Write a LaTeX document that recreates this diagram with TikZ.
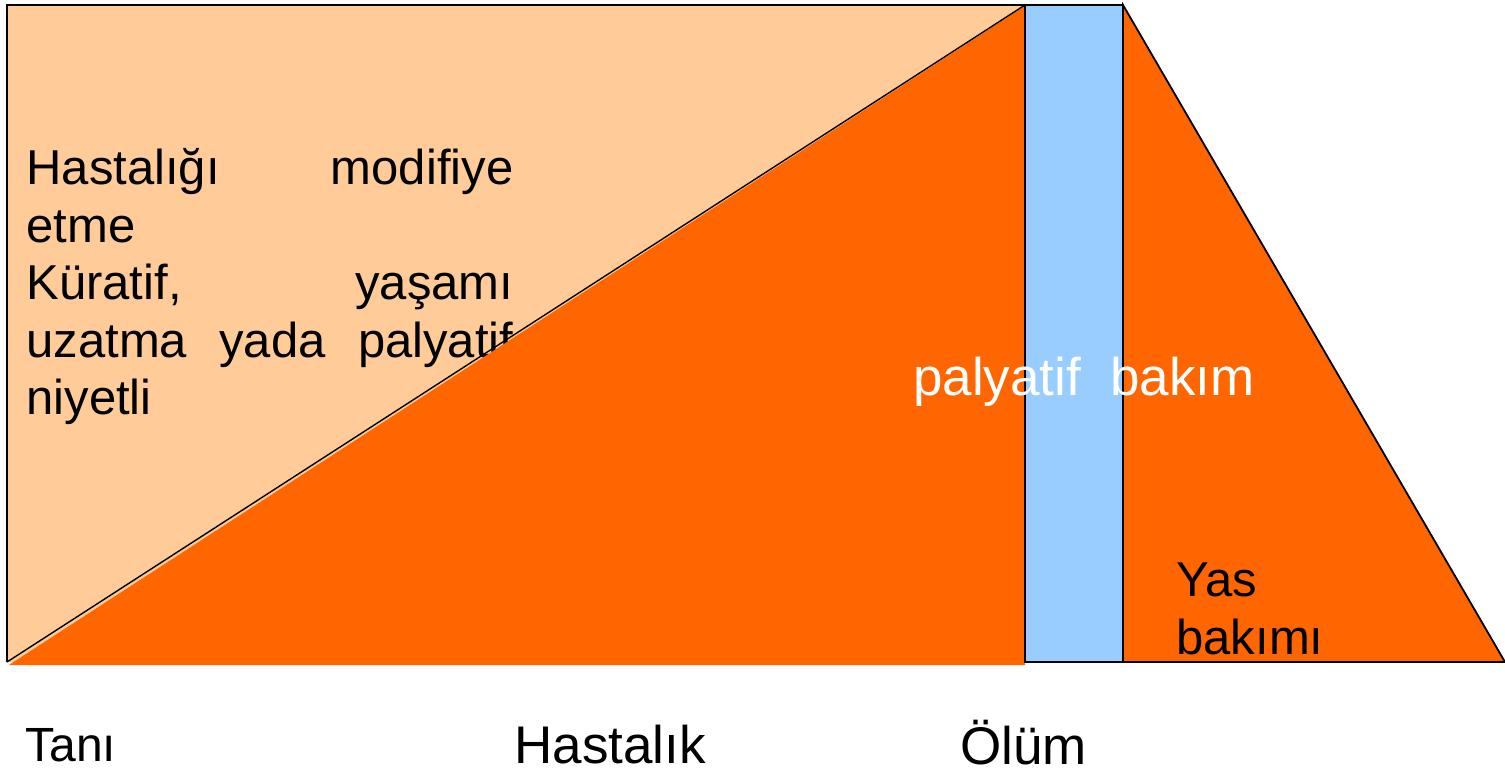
\documentclass[tikz,border=0pt]{standalone}
\usepackage{fontspec}
\setmainfont{Liberation Sans}
\definecolor{peach}{HTML}{FFCC99}
\definecolor{orng}{HTML}{FF6600}
\definecolor{skyb}{HTML}{99CCFF}
\begin{document}
\begin{tikzpicture}[x=0.5pt,y=-0.5pt,
  outline/.style={draw=black,line width=0.9pt},
  thinline/.style={draw=black,line width=0.7pt},
  lbl/.style={inner sep=0pt,anchor=base west,text=black}]
\useasboundingbox (0,0) rectangle (1505,770);
% background peach area
\fill[peach] (7,5) rectangle (1025,662);
\draw[outline] (1025,5) -- (7,5) -- (7,662);
% left text block
\node[lbl] (txt) at (26,185) {\parbox[t]{243.5pt}{\fontsize{24.5}{28.75}\selectfont
Hastalığı\hfill modifiye\\
etme\\
Küratif,\hfill yaşamı\\
uzatma\hfill yada\hfill palyatif\\
niyetli}};
% disease triangle
\fill[orng] (9,665) -- (1025,6) -- (1025,665) -- cycle;
\coordinate (bl) at (7,662);
\coordinate (tp) at (1025,5);
\draw[thinline] (bl) -- (tp);
% palliative bar
\filldraw[fill=skyb,thinline] (1025,5) rectangle (1123,662);
% bereavement triangle
\filldraw[fill=orng,outline] (1123,5) -- (1505,662) -- (1123,662) -- cycle;
\draw[outline] (1025,662) -- (1505,662);
\draw[outline] (1025,5) -- (1123,5);
% labels
\node[inner sep=0pt,anchor=base,text=white,font=\fontsize{26.5}{32}\selectfont] (pb) at (1084,395) {palyatif\ \ bakım};
\node[lbl] (yas) at (1176,596) {\parbox[t]{100pt}{\fontsize{24.5}{29}\selectfont Yas\\bakımı}};
\node[lbl,font=\fontsize{24}{28}\selectfont] (tani) at (25,761) {Tanı};
\node[lbl,font=\fontsize{26.5}{30}\selectfont] (hast) at (514,763) {Hastalık};
\node[lbl,font=\fontsize{26.5}{30}\selectfont] (olum) at (960,764) {Ölüm};
\end{tikzpicture}
\end{document}
